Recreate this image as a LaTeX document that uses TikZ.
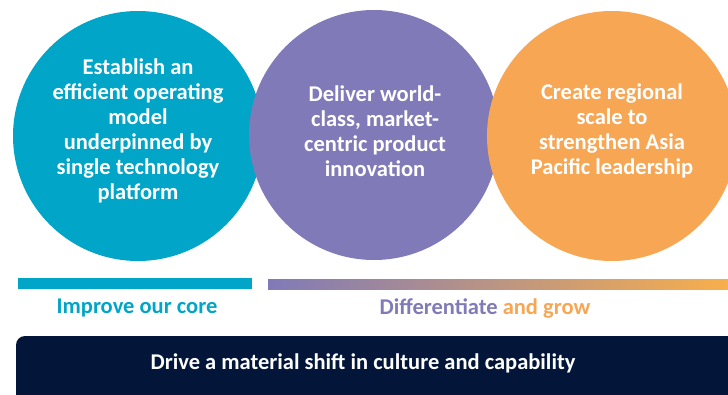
\documentclass[tikz,border=0pt]{standalone}
\usepackage{fontspec}
\setmainfont{Carlito}
\usetikzlibrary{positioning}

\definecolor{coreblue}{RGB}{0,165,200}
\definecolor{diffpurple}{RGB}{128,122,184}
\definecolor{groworange}{RGB}{247,166,84}
\definecolor{cultnavy}{RGB}{3,22,58}

\begin{document}
\begin{tikzpicture}[x=1pt, y=-1pt]
\tikzstyle{pillar} = [circle, minimum size=250pt, inner sep=0pt]
\tikzstyle{pillartext} = [text=white, align=center,
  font=\bfseries\fontsize{22.5}{25}\selectfont]
\tikzstyle{theme} = [font=\bfseries\fontsize{22.5}{25}\selectfont]

\useasboundingbox (0,0) rectangle (728,394);
\clip (0,0) rectangle (728,394);

% three pillars, each one lying over the one before
\node[pillar, fill=coreblue] (core) at (138,136) {};
\node[pillar, fill=diffpurple] (product) at (374,135) {};
\node[pillar, fill=groworange] (scale) at (612,136) {};

\node[pillartext] (coretext) at (138,131)
  {Establish an\\efficient operating\\model\\underpinned by\\single technology\\platform};
\node[pillartext] (producttext) at (375,131)
  {Deliver world-\\class, market-\\centric product\\innovation};
\node[pillartext] (scaletext) at (612,131)
  {Create regional\\scale to\\strengthen Asia\\Pacific leadership};

\fill[coreblue] (18,278) rectangle (252,289);
\shade[left color=diffpurple, right color=groworange!90!yellow] (268,279) rectangle (728,289);

\node[theme, text=coreblue] (improve) at (137,308) {Improve our core};
\node[theme, text=diffpurple] (differ) at (485,308)
  {Differentiate \textcolor{groworange}{and grow}};

\fill[cultnavy, rounded corners=9pt] (16,336) rectangle (760,420);
\node[theme, text=white] (culture) at (363,363)
  {Drive a material shift in culture and capability};
\end{tikzpicture}
\end{document}
